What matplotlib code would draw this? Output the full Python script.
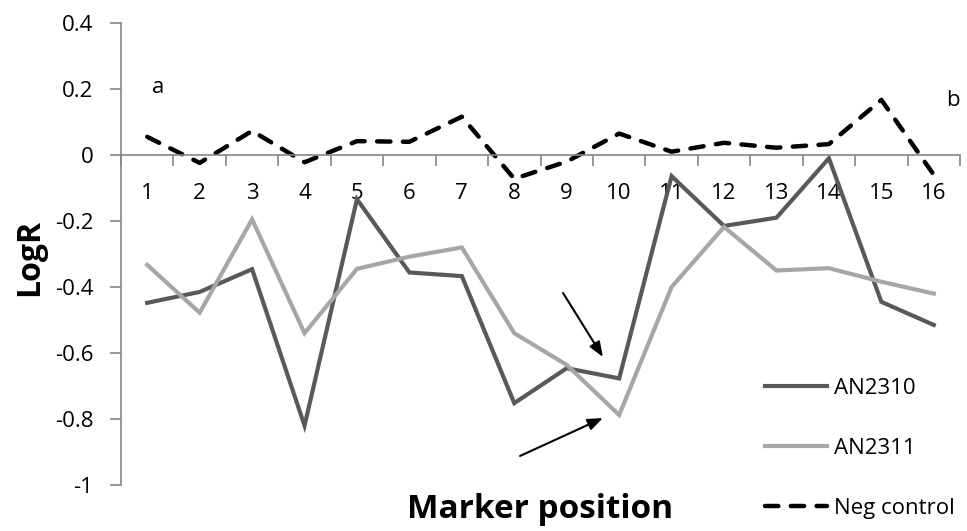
import matplotlib
matplotlib.use("Agg")
import matplotlib.pyplot as plt
from matplotlib.ticker import FixedLocator, NullFormatter

plt.rcParams['font.family'] = ['Open Sans', 'DejaVu Sans']

positions = list(range(1, 17))
position_labels = [str(p) for p in positions]
an2310 = [-0.448, -0.415, -0.346, -0.82, -0.134, -0.356, -0.367, -0.752,
          -0.646, -0.677, -0.064, -0.215, -0.19, -0.01, -0.445, -0.515]
an2311 = [-0.333, -0.478, -0.195, -0.54, -0.345, -0.308, -0.28, -0.54,
          -0.636, -0.788, -0.4, -0.218, -0.35, -0.343, -0.384, -0.42]
neg_control = [0.055, -0.024, 0.073, -0.022, 0.042, 0.04, 0.116, -0.072,
               -0.02, 0.065, 0.01, 0.037, 0.022, 0.033, 0.167, -0.06]
y_ticks = [-1, -0.8, -0.6, -0.4, -0.2, 0, 0.2, 0.4]
y_tick_labels = ['-1', '-0.8', '-0.6', '-0.4', '-0.2', '0', '0.2', '0.4']

fig = plt.figure(figsize=(9.67, 5.31), dpi=100)
ax = fig.add_axes([121 / 967, 1 - 485 / 531, (960 - 121) / 967, (485 - 23) / 531])

l1, = ax.plot(positions, an2310, color='#595959', lw=3.0, solid_joinstyle='miter')
l2, = ax.plot(positions, an2311, color='#a6a6a6', lw=3.0, solid_joinstyle='miter')
l3, = ax.plot(positions, neg_control, color='black', lw=3.2,
              linestyle=(0, (3, 2.8)), dash_capstyle='round')

ax.set_xlim(0.5, 16.5)
ax.set_ylim(-1, 0.4)

axis_grey = '#868686'
for side in ['top', 'right']:
    ax.spines[side].set_visible(False)
ax.spines['left'].set_color(axis_grey)
ax.spines['bottom'].set_color(axis_grey)
ax.spines['left'].set_linewidth(1.2)
ax.spines['bottom'].set_linewidth(1.2)
ax.spines['bottom'].set_position(('data', 0))

ax.set_yticks(y_ticks)
ax.set_yticklabels(y_tick_labels)
ax.tick_params(axis='y', direction='out', length=8, width=1.2, color=axis_grey,
               labelsize=16, pad=12)

ax.set_xticks(positions)
ax.set_xticklabels(position_labels)
ax.xaxis.set_minor_locator(FixedLocator([p + 0.5 for p in range(0, 17)]))
ax.xaxis.set_minor_formatter(NullFormatter())
ax.tick_params(axis='x', which='major', length=0, labelsize=16, pad=20)
ax.tick_params(axis='x', which='minor', direction='out', length=8, width=1.2,
               color=axis_grey)

fig.text(30 / 967, 1 - 257 / 531, 'LogR', fontsize=23, fontweight='bold',
         rotation=90, ha='center', va='center')
fig.text(540 / 967, 1 - 510 / 531, 'Marker position', fontsize=24,
         fontweight='bold', ha='center', va='center')

ax.text(1.2, 0.205, 'a', fontsize=16, ha='center', va='center')
ax.text(16.37, 0.165, 'b', fontsize=16, ha='center', va='center')

arrow_style = dict(arrowstyle='-|>,head_length=0.9,head_width=0.35', color='black',
                   lw=1.5, shrinkA=0, shrinkB=0)
ax.annotate('', xy=(9.69, -0.612), xytext=(8.93, -0.418), arrowprops=arrow_style)
ax.annotate('', xy=(9.69, -0.797), xytext=(8.11, -0.912), arrowprops=arrow_style)

fig.legend([l1, l2, l3], ['AN2310', 'AN2311', 'Neg control'],
           loc='upper left', bbox_to_anchor=(765 / 967, 1 - 378 / 531),
           frameon=False, fontsize=16, handlelength=2.8, handletextpad=0.3,
           labelspacing=1.75, borderaxespad=0, borderpad=0)

fig.savefig('out.png', dpi=100)
